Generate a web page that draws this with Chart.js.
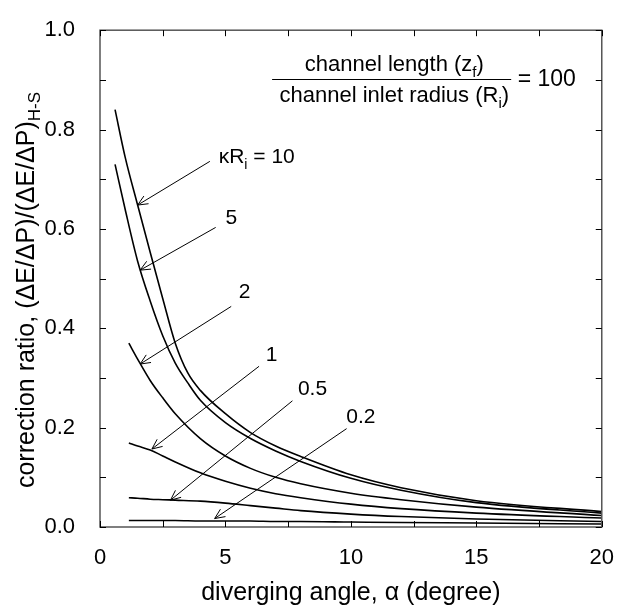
<!DOCTYPE html>
<html lang="en">
<head>
<meta charset="UTF-8">
<title>Correction ratio vs diverging angle</title>
<script src="https://cdn.jsdelivr.net/npm/chart.js"></script>
<style>
  html, body { margin: 0; padding: 0; background: #fff; }
</style>
</head>
<body>
<canvas id="chart" width="624" height="616"></canvas>
<script>
// angles (degree)
const angleLong = [0.6, 1, 1.5, 2, 2.5, 3, 3.5, 4, 5, 6, 7, 8, 10, 12, 15, 20];
const angleShort = [1.15, 1.5, 2, 2.5, 3, 4, 5, 6, 7, 8, 10, 12, 15, 20];

// correction ratio for each kappa*Ri
const ratioK10 = [0.84, 0.745, 0.648, 0.553, 0.46, 0.37, 0.31, 0.275, 0.228, 0.19, 0.163, 0.142, 0.105, 0.079, 0.053, 0.031];
const ratioK5 = [0.73, 0.64, 0.535, 0.455, 0.385, 0.33, 0.29, 0.255, 0.21, 0.178, 0.153, 0.132, 0.098, 0.074, 0.049, 0.028];
const ratioK2 = [0.37, 0.338, 0.295, 0.26, 0.228, 0.178, 0.143, 0.118, 0.1, 0.087, 0.068, 0.055, 0.04, 0.023];
const ratioK1 = [0.169, 0.163, 0.155, 0.143, 0.131, 0.109, 0.092, 0.078, 0.067, 0.059, 0.046, 0.037, 0.028, 0.018];
const ratioK05 = [0.059, 0.058, 0.056, 0.055, 0.054, 0.052, 0.048, 0.043, 0.038, 0.033, 0.026, 0.021, 0.016, 0.011];
const ratioK02 = [0.013, 0.013, 0.013, 0.013, 0.013, 0.012, 0.012, 0.012, 0.011, 0.011, 0.010, 0.009, 0.008, 0.006];

const kappaLabels = ['10', '5', '2', '1', '0.5', '0.2'];
const xTicks = [0, 5, 10, 15, 20];
const yTicks = [0, 0.2, 0.4, 0.6, 0.8, 1.0];

const FONT = '"Liberation Sans", Arial, sans-serif';

function pts(xs, ys) {
  return xs.map((v, i) => ({x: v, y: ys[i]}));
}

const series = [
  [angleLong, ratioK10], [angleLong, ratioK5], [angleShort, ratioK2],
  [angleShort, ratioK1], [angleShort, ratioK05], [angleShort, ratioK02]
];

// arrows: tail (near label) -> head (on curve), in data units
const arrows = [
  {from: [4.38, 0.736], to: [1.5, 0.648], at: [4.73, 0.744], align: 'left', parts: [{t: '\u03baR'}, {t: 'i', sub: true}, {t: ' = ' + kappaLabels[0]}]},
  {from: [4.61, 0.603], to: [1.6, 0.517], at: [5.24, 0.622], parts: [{t: kappaLabels[1]}]},
  {from: [5.23, 0.444], to: [1.6, 0.328], at: [5.76, 0.472], parts: [{t: kappaLabels[2]}]},
  {from: [6.34, 0.3235], to: [2.07, 0.157], at: [6.84, 0.345], parts: [{t: kappaLabels[3]}]},
  {from: [7.67, 0.254], to: [2.81, 0.054], at: [8.47, 0.278], parts: [{t: kappaLabels[4]}]},
  {from: [9.83, 0.198], to: [4.57, 0.017], at: [10.4, 0.2205], parts: [{t: kappaLabels[5]}]}
];

function measureRich(ctx, parts, size) {
  let w = 0;
  parts.forEach(p => {
    ctx.font = (p.sub ? Math.round(size * 0.68) : size) + 'px ' + FONT;
    w += ctx.measureText(p.t).width;
  });
  return w;
}

function drawRich(ctx, parts, x, y, size, align) {
  const w = measureRich(ctx, parts, size);
  let cx = align === 'left' ? x : x - w / 2;
  ctx.textBaseline = 'middle';
  ctx.textAlign = 'left';
  parts.forEach(p => {
    const s = p.sub ? Math.round(size * 0.68) : size;
    ctx.font = s + 'px ' + FONT;
    ctx.fillText(p.t, cx, p.sub ? y + size * 0.35 : y);
    cx += ctx.measureText(p.t).width;
  });
}

const decor = {
  id: 'decor',
  afterDraw(chart) {
    const {ctx, chartArea: a, scales: {x, y}} = chart;
    ctx.save();
    ctx.fillStyle = '#000';

    // frame
    ctx.strokeStyle = '#555';
    ctx.lineWidth = 1.5;
    ctx.strokeRect(a.left, a.top, a.right - a.left, a.bottom - a.top);

    // inward ticks on all four sides
    ctx.lineWidth = 1;
    ctx.strokeStyle = '#000';
    const tl = 6;
    for (let v = 0; v <= 20.001; v += 2.5) {
      const px = Math.round(x.getPixelForValue(v)) + 0.5;
      ctx.beginPath();
      ctx.moveTo(px, a.bottom); ctx.lineTo(px, a.bottom - tl);
      ctx.moveTo(px, a.top); ctx.lineTo(px, a.top + tl);
      ctx.stroke();
    }
    for (let v = 0; v <= 1.0001; v += 0.1) {
      const py = Math.round(y.getPixelForValue(v)) + 0.5;
      ctx.beginPath();
      ctx.moveTo(a.left, py); ctx.lineTo(a.left + tl, py);
      ctx.moveTo(a.right, py); ctx.lineTo(a.right - tl, py);
      ctx.stroke();
    }

    // arrows with labels
    arrows.forEach(ar => {
      const x1 = x.getPixelForValue(ar.from[0]), y1 = y.getPixelForValue(ar.from[1]);
      const x2 = x.getPixelForValue(ar.to[0]), y2 = y.getPixelForValue(ar.to[1]);
      ctx.beginPath();
      ctx.moveTo(x1, y1); ctx.lineTo(x2, y2);
      const ang = Math.atan2(y1 - y2, x1 - x2);
      const hl = 11, hw = 0.42;
      ctx.moveTo(x2 + hl * Math.cos(ang + hw), y2 + hl * Math.sin(ang + hw));
      ctx.lineTo(x2, y2);
      ctx.lineTo(x2 + hl * Math.cos(ang - hw), y2 + hl * Math.sin(ang - hw));
      ctx.stroke();
      drawRich(ctx, ar.parts, x.getPixelForValue(ar.at[0]), y.getPixelForValue(ar.at[1]), 21, ar.align);
    });

    // ratio annotation
    const numY = y.getPixelForValue(0.930), denY = y.getPixelForValue(0.868);
    const midX = x.getPixelForValue(11.73);
    drawRich(ctx, [{t: 'channel length (z'}, {t: 'f', sub: true}, {t: ')'}], midX, numY, 22);
    drawRich(ctx, [{t: 'channel inlet radius (R'}, {t: 'i', sub: true}, {t: ')'}], midX, denY, 22);
    const ly = Math.round(y.getPixelForValue(0.902)) + 0.5;
    ctx.beginPath();
    ctx.moveTo(x.getPixelForValue(6.86), ly); ctx.lineTo(x.getPixelForValue(16.39), ly);
    ctx.stroke();
    drawRich(ctx, [{t: '= 100'}], x.getPixelForValue(16.65), y.getPixelForValue(0.901), 23, 'left');

    // axis titles
    drawRich(ctx, [{t: 'diverging angle, \u03b1 (degree)'}], (a.left + a.right) / 2, 593, 25);
    ctx.translate(27, 290);
    ctx.rotate(-Math.PI / 2);
    drawRich(ctx, [{t: 'correction ratio, (\u0394E/\u0394P)/(\u0394E/\u0394P)'}, {t: 'H-S', sub: true}], 0, 0, 25);
    ctx.restore();
  }
};

new Chart(document.getElementById('chart'), {
  type: 'scatter',
  data: {
    datasets: series.map((s, i) => ({
      label: kappaLabels[i],
      data: pts(s[0], s[1]),
      showLine: true,
      borderColor: '#000',
      borderWidth: 1.6,
      pointRadius: 0,
      cubicInterpolationMode: 'monotone',
      fill: false
    }))
  },
  options: {
    responsive: false,
    devicePixelRatio: 1,
    animation: false,
    layout: {padding: {top: 16, right: 14, left: 0, bottom: 0}},
    plugins: {legend: {display: false}, tooltip: {enabled: false}},
    scales: {
      x: {
        type: 'linear', min: 0, max: 20,
        grid: {display: false}, border: {display: false},
        afterBuildTicks: s => { s.ticks = xTicks.map(v => ({value: v})); },
        afterFit: s => { s.height = 89; },
        ticks: {color: '#000', font: {family: FONT, size: 22}, padding: 10, maxRotation: 0}
      },
      y: {
        type: 'linear', min: 0, max: 1,
        grid: {display: false}, border: {display: false},
        afterBuildTicks: s => { s.ticks = yTicks.map(v => ({value: v})); },
        afterFit: s => { s.width = 100; },
        ticks: {color: '#000', font: {family: FONT, size: 22}, padding: 17, callback: v => v.toFixed(1)}
      }
    }
  },
  plugins: [decor]
});
</script>
</body>
</html>
